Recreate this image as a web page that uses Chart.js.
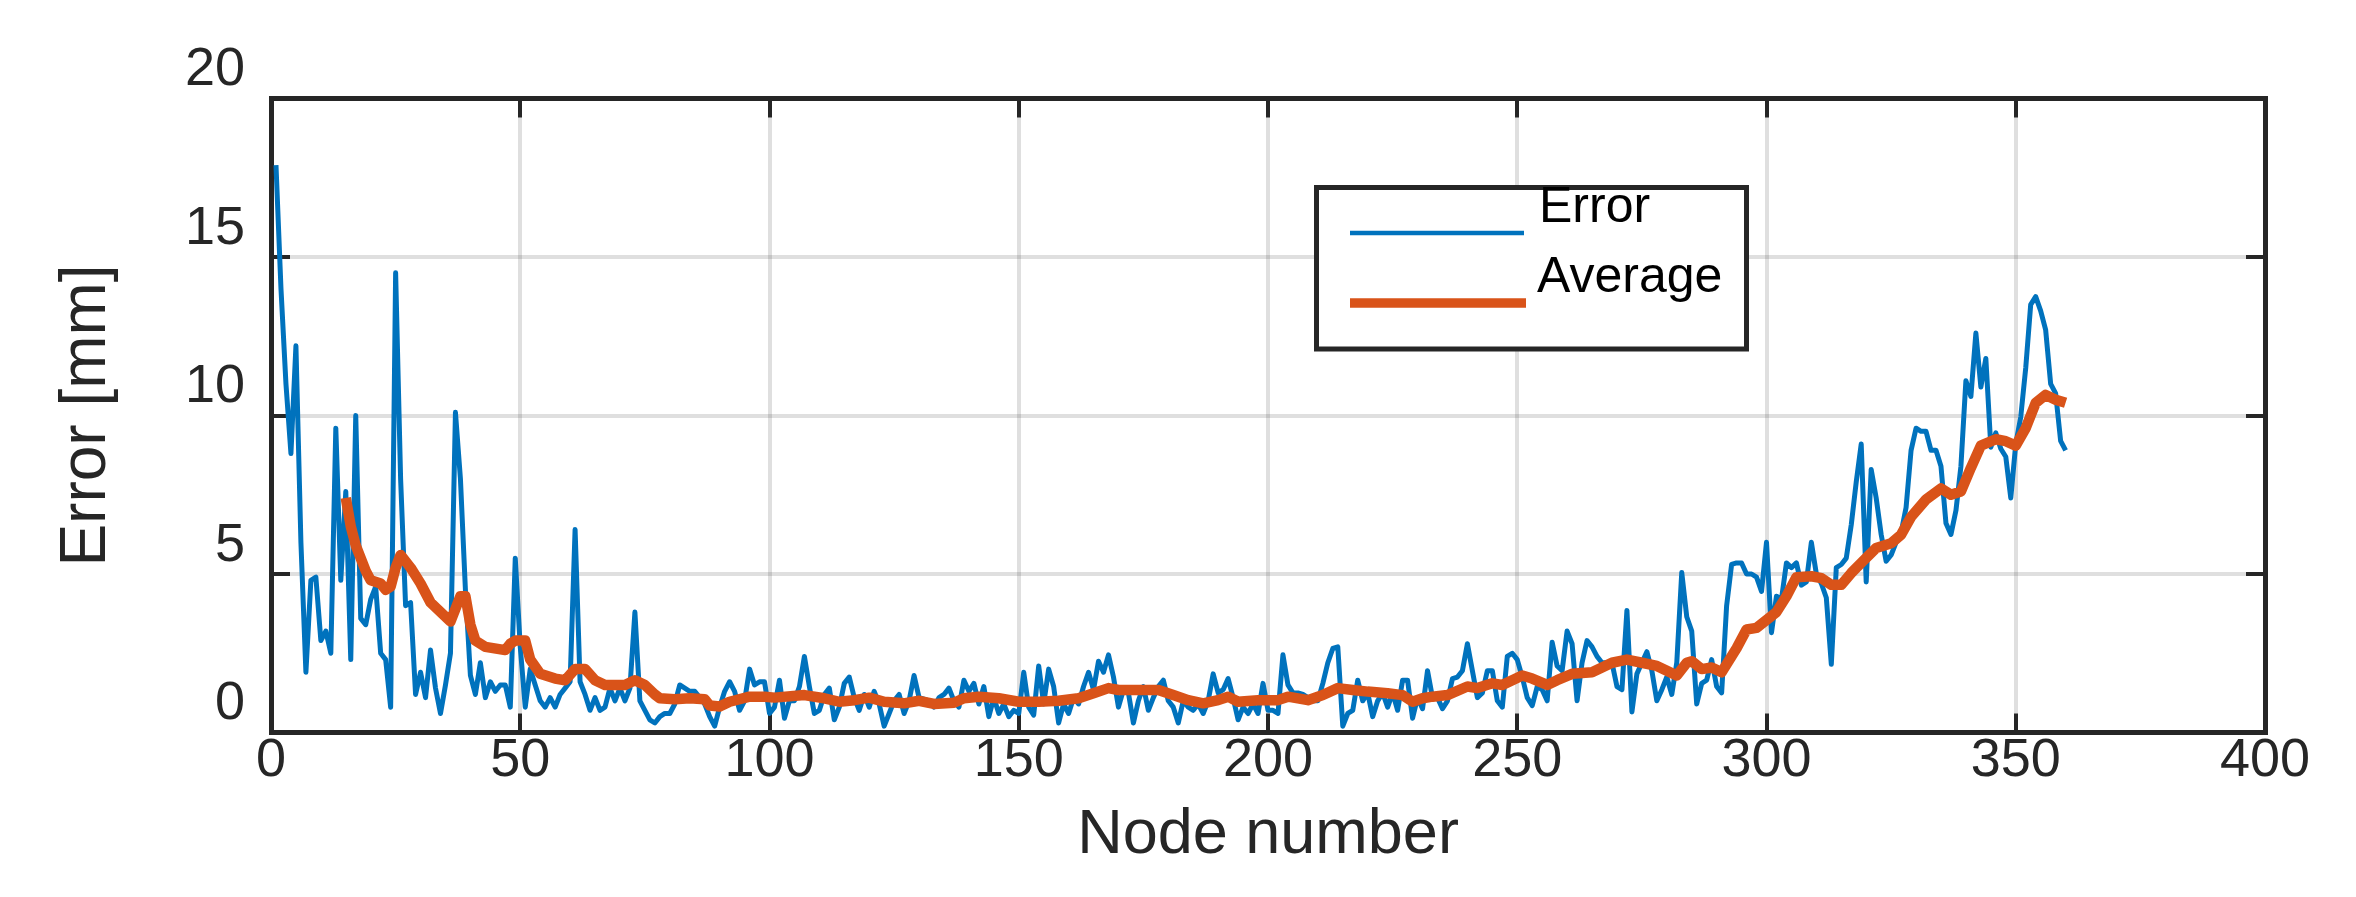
<!DOCTYPE html>
<html>
<head>
<meta charset="utf-8">
<script src="https://cdn.jsdelivr.net/npm/chart.js@4.4.1/dist/chart.umd.min.js"></script>
<style>
  html, body { margin: 0; padding: 0; background: #ffffff; }
  #wrap { width: 2356px; height: 897px; }
  canvas { display: block; }
</style>
</head>
<body>
<div id="wrap"><canvas id="c" width="2356" height="897"></canvas></div>
<script>
// ---- data ----
const xTitle = 'Node number';
const yTitle = 'Error [mm]';
const seriesLabels = ['Error', 'Average'];

// Error per node (node 1 .. 360)
const errorValues = [
  17.9,14.0,11.0,8.8,12.2,6.0,1.9,4.8,4.9,2.9,3.2,2.5,9.6,4.8,7.6,2.3,10.0,3.6,3.4,4.2,
  4.6,2.5,2.3,0.8,14.5,8.0,4.0,4.1,1.2,1.9,1.1,2.6,1.4,0.6,1.5,2.5,10.1,8.0,4.5,1.8,
  1.2,2.2,1.1,1.6,1.3,1.5,1.5,0.8,5.5,2.7,0.8,2.0,1.5,1.0,0.8,1.1,0.8,1.2,1.4,1.6,
  6.4,1.6,1.2,0.7,1.1,0.7,0.8,1.4,1.0,1.4,1.0,1.4,3.8,1.0,0.7,0.4,0.3,0.5,0.6,0.6,
  0.9,1.5,1.4,1.3,1.3,1.1,0.9,0.5,0.2,0.8,1.3,1.6,1.3,0.7,1.0,2.0,1.5,1.6,1.6,0.6,
  0.8,1.65,0.45,1.0,1.0,1.45,2.4,1.45,0.6,0.7,1.2,1.4,0.4,0.8,1.55,1.75,1.1,0.7,1.2,0.8,
  1.3,0.9,0.2,0.6,1.0,1.2,0.6,1.0,1.8,1.1,1.05,1.0,0.8,1.1,1.2,1.4,1.0,0.8,1.65,1.3,
  1.55,0.9,1.45,0.5,1.1,0.6,0.9,0.5,0.7,0.6,1.9,0.8,0.55,2.1,0.9,2.0,1.45,0.3,0.9,0.6,
  1.1,0.9,1.45,1.9,1.35,2.25,1.9,2.45,1.75,0.8,1.35,1.25,0.3,1.0,1.45,0.7,1.1,1.45,1.65,1.0,
  0.8,0.3,1.0,0.8,0.7,0.9,0.6,1.0,1.85,1.25,1.35,1.7,1.1,0.4,0.8,0.6,0.9,0.6,1.55,0.7,
  0.7,0.6,2.45,1.5,1.25,1.25,1.2,1.1,1.0,1.0,1.55,2.2,2.65,2.7,0.2,0.6,0.7,1.65,1.0,1.25,
  0.5,1.0,1.25,0.8,1.25,0.7,1.65,1.65,0.45,1.1,0.75,1.95,1.1,1.1,0.75,1.0,1.7,1.75,1.95,2.8,
  1.95,1.1,1.25,1.95,1.95,1.0,0.8,2.4,2.5,2.3,1.75,1.1,0.85,1.45,1.35,1.0,2.85,2.1,1.95,3.2,
  2.8,1.0,2.2,2.9,2.7,2.4,2.2,2.2,2.2,1.45,1.35,3.85,0.65,1.85,2.2,2.55,1.95,1.0,1.35,1.75,
  1.2,2.2,5.05,3.65,3.2,0.9,1.55,1.65,2.3,1.45,1.25,4.0,5.3,5.35,5.35,5.0,5.0,4.9,4.45,6.0,
  3.15,4.3,4.2,5.35,5.2,5.35,4.65,4.75,6.0,5.0,4.7,4.25,2.15,5.2,5.3,5.5,6.55,7.9,9.1,4.75,
  8.3,7.4,6.25,5.4,5.6,6.0,6.3,7.1,8.9,9.6,9.5,9.5,8.9,8.9,8.4,6.6,6.25,7.0,8.4,11.1,
  10.6,12.6,10.9,11.8,9.0,9.45,8.95,8.7,7.4,9.1,9.95,11.5,13.5,13.75,13.3,12.7,11.0,10.7,9.2,8.9
];
// node numbers for the error series (1 .. N)
const errorNodes = errorValues.map((_, i) => i + 1);

// Average curve, read at its turning points
const avgNodes = [
  15,16,17,19,20,22,23,24,25,26,28,30,32,34,36,37,38,39,40,41,43,47,48,49,51,52,54,57,59,61,
  63,65,67,71,73,75,77,78,81,84,87,88,90,92,96,99,101,107,111,114,117,120,123,127,130,133,137,139,142,146,
  150,154,158,162,165,168,170,178,181,184,187,190,192,194,198,202,204,208,211,214,217,220,224,227,229,231,233,236,240,242,
  245,247,251,253,256,258,261,265,269,272,275,278,280,282,284,285,287,289,291,294,296,298,302,304,306,309,311,313,315,317,
  319,322,325,327,329,332,335,337,339,341,343,346,348,350,352,354,356,358,360
];
const avgValues = [
  7.4,6.5,5.9,5.1,4.8,4.7,4.5,4.6,5.2,5.6,5.2,4.7,4.1,3.8,3.5,3.9,4.3,4.3,3.4,2.9,2.7,2.6,2.8,2.9,2.9,2.3,1.85,1.7,1.65,2.0,
  2.0,1.65,1.5,1.5,1.65,1.5,1.2,1.08,1.05,1.08,1.05,0.85,0.82,0.97,1.13,1.13,1.1,1.18,1.08,0.97,1.02,1.1,0.97,0.92,1.0,0.9,0.94,1.08,1.13,1.08,
  0.97,0.97,1.0,1.08,1.24,1.4,1.34,1.34,1.18,1.02,0.92,1.02,1.13,0.97,1.02,1.02,1.13,1.02,1.18,1.4,1.34,1.29,1.24,1.18,0.97,1.08,1.13,1.18,1.45,1.4,
  1.55,1.5,1.8,1.7,1.5,1.65,1.85,1.9,2.2,2.3,2.2,2.1,1.95,1.8,2.2,2.25,2.0,2.05,1.9,2.66,3.25,3.3,3.8,4.3,4.9,4.93,4.87,4.66,4.66,5.03,
  5.35,5.82,5.97,6.24,6.8,7.35,7.7,7.5,7.6,8.35,9.05,9.25,9.19,9.05,9.6,10.4,10.65,10.5,10.4
];

// axis ticks
const xTicks = [0, 50, 100, 150, 200, 250, 300, 350, 400];
const yTicks = [0, 5, 10, 15, 20];

// ---- styling ----
const FONT = "'Liberation Sans', Arial, Helvetica, sans-serif";
const AXIS = '#262626';
const BLUE = '#0072BD';
const ORANGE = '#D95319';
const GRID = 'rgba(38,38,38,0.15)';

Chart.defaults.font.family = FONT;

const errorData = errorNodes.map((n, i) => ({ x: n, y: errorValues[i] }));
const avgData = avgNodes.map((n, i) => ({ x: n, y: avgValues[i] }));

const boxLegend = {
  id: 'boxLegend',
  afterDraw(chart) {
    const ctx = chart.ctx;
    const ds = chart.data.datasets;
    ctx.save();
    ctx.fillStyle = '#ffffff';
    ctx.fillRect(1316.5, 187.5, 430, 161.5);
    ctx.strokeStyle = AXIS;
    ctx.lineWidth = 5;
    ctx.strokeRect(1316.5, 187.5, 430, 161.5);
    ctx.lineCap = 'butt';
    ctx.strokeStyle = ds[0].borderColor;
    ctx.lineWidth = 4.7;
    ctx.beginPath(); ctx.moveTo(1350, 233); ctx.lineTo(1524, 233); ctx.stroke();
    ctx.strokeStyle = ds[1].borderColor;
    ctx.lineWidth = 9.5;
    ctx.beginPath(); ctx.moveTo(1350, 303); ctx.lineTo(1526, 303); ctx.stroke();
    ctx.fillStyle = '#000000';
    ctx.font = '50px ' + FONT;
    ctx.textAlign = 'left';
    ctx.textBaseline = 'alphabetic';
    ctx.fillText(ds[0].label, 1539, 222);
    ctx.fillText(ds[1].label, 1537, 292);
    ctx.restore();
  }
};

function boxAxis(position, min, max, step) {
  const horiz = position === 'top';
  return {
    type: 'linear', position, min, max,
    afterBuildTicks(scale) { scale.ticks = (horiz ? xTicks : yTicks).map(v => ({ value: v })); },
    ticks: { display: false, stepSize: step },
    grid: { drawOnChartArea: false, drawTicks: true, tickLength: -19, tickColor: AXIS, tickWidth: 4, color: GRID, lineWidth: 4 },
    border: { display: true, color: AXIS, width: 5 },
    afterFit(scale) { if (horiz) scale.height = 0; else scale.width = 0; }
  };
}

new Chart(document.getElementById('c'), {
  type: 'line',
  data: {
    datasets: [
      { label: seriesLabels[0], data: errorData, borderColor: BLUE, backgroundColor: BLUE,
        borderWidth: 5, pointRadius: 0, tension: 0, borderJoinStyle: 'round', borderCapStyle: 'butt',
        xAxisID: 'x', yAxisID: 'y', order: 2 },
      { label: seriesLabels[1], data: avgData, borderColor: ORANGE, backgroundColor: ORANGE,
        borderWidth: 10.5, pointRadius: 0, tension: 0, borderJoinStyle: 'round', borderCapStyle: 'butt',
        xAxisID: 'x', yAxisID: 'y', order: 1 }
    ]
  },
  options: {
    responsive: false,
    devicePixelRatio: 1,
    animation: false,
    layout: { padding: { left: 0, right: 91, top: 98.5, bottom: 0 } },
    plugins: { legend: { display: false }, tooltip: { enabled: false } },
    scales: {
      x: {
        type: 'linear', position: 'bottom', min: 0, max: 400,
        afterBuildTicks(scale) { scale.ticks = xTicks.map(v => ({ value: v })); },
        ticks: { stepSize: 50, color: AXIS, font: { size: 54, lineHeight: 1 }, padding: 21, maxRotation: 0, autoSkip: false },
        grid: { color: GRID, lineWidth: 4, drawTicks: true, tickLength: -19, tickColor: AXIS, tickWidth: 4 },
        border: { display: true, color: AXIS, width: 5 },
        title: { display: true, text: xTitle, color: AXIS, font: { size: 63, lineHeight: 1.2 }, padding: { top: 0, bottom: 24 } },
        afterFit(scale) { scale.height = 164.5; }
      },
      y: {
        type: 'linear', position: 'left', min: 0, max: 20,
        afterBuildTicks(scale) { scale.ticks = yTicks.map(v => ({ value: v })); },
        ticks: { stepSize: 5, color: AXIS, font: { size: 54, lineHeight: 1 }, padding: 45, labelOffset: -28 },
        grid: { color: GRID, lineWidth: 4, drawTicks: true, tickLength: -19, tickColor: AXIS, tickWidth: 4 },
        border: { display: true, color: AXIS, width: 5 },
        title: { display: true, text: yTitle, color: AXIS, font: { size: 64, lineHeight: 1.2 }, padding: { top: 49, bottom: 0 } },
        afterFit(scale) { scale.width = 271; }
      },
      x2: boxAxis('top', 0, 400, 50),
      y2: boxAxis('right', 0, 20, 5)
    }
  },
  plugins: [boxLegend]
});
</script>
</body>
</html>
